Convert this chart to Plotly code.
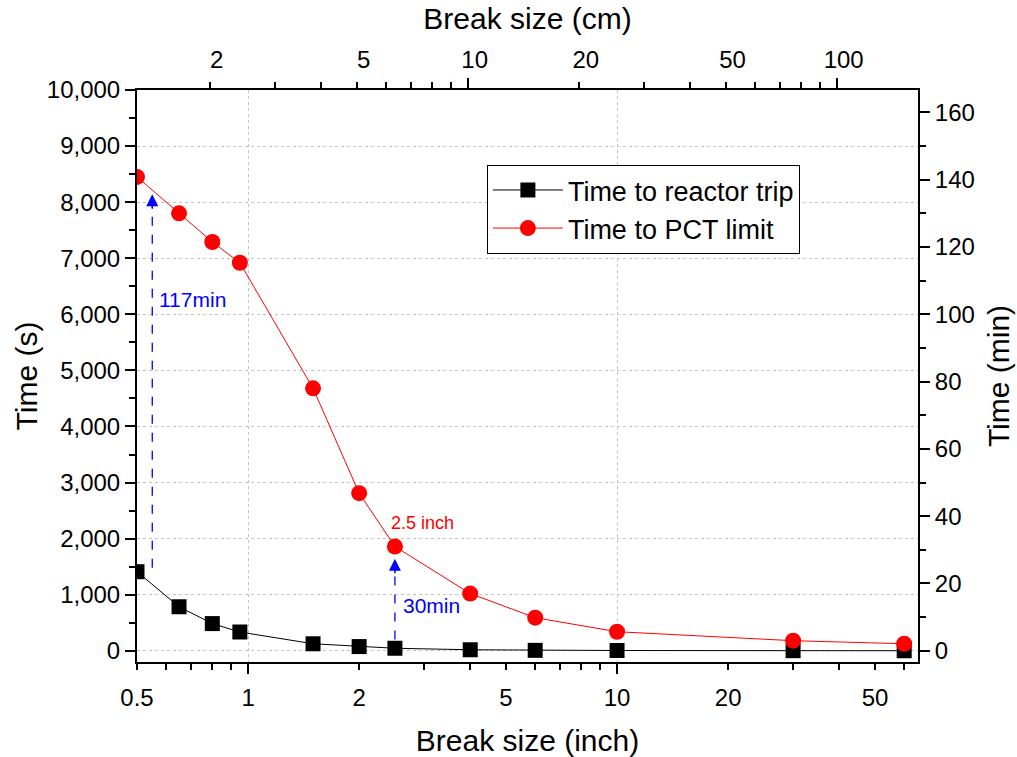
import math
import plotly.graph_objects as go

# ---- data ----
break_inch = [0.5, 0.65, 0.8, 0.95, 1.5, 2, 2.5, 4, 6, 10, 30, 60]
time_trip_s = [1410, 785, 485, 335, 125, 75, 45, 18, 8, 5, 2, 1]
time_pct_s = [8450, 7800, 7290, 6920, 4680, 2810, 1860, 1020, 590, 340, 180, 125]

bottom_tick_vals = [0.5, 1, 2, 5, 10, 20, 50]
bottom_tick_text = ["0.5", "1", "2", "5", "10", "20", "50"]
top_tick_vals = [2, 5, 10, 20, 50, 100]
top_tick_text = ["2", "5", "10", "20", "50", "100"]
right_tick_vals = [0, 20, 40, 60, 80, 100, 120, 140, 160]

INCH_TO_CM = 2.54
X_MIN, X_MAX = 0.5, 65.4
Y_MIN, Y_MAX = -200, 10000

FONT = "Liberation Sans, Arial, Helvetica, sans-serif"
TICK_FONT = dict(family=FONT, size=24, color="black")
TITLE_FONT = dict(family=FONT, size=30, color="black")
GRID = "#c4c4c4"

lx = [math.log10(X_MIN), math.log10(X_MAX)]
lx_cm = [math.log10(X_MIN * INCH_TO_CM), math.log10(X_MAX * INCH_TO_CM)]

fig = go.Figure()

fig.add_trace(go.Scatter(
    x=break_inch, y=time_trip_s, name="Time to reactor trip",
    mode="lines+markers", line=dict(color="black", width=1),
    marker=dict(symbol="square", size=15, color="black"),
    xaxis="x", yaxis="y"))
fig.add_trace(go.Scatter(
    x=break_inch, y=time_pct_s, name="Time to PCT limit",
    mode="lines+markers", line=dict(color="red", width=1),
    marker=dict(symbol="circle", size=16, color="red"),
    xaxis="x", yaxis="y"))

# helper traces so overlay axes render
for xa, ya in [("x2", "y"), ("x3", "y"), ("x4", "y"), ("x", "y2")]:
    fig.add_trace(go.Scatter(x=[None], y=[None], xaxis=xa, yaxis=ya,
                             showlegend=False, hoverinfo="skip"))

# annotations: dashed arrows (shapes take data values on log axes)
arrows = [
    (0.55, 1480, 8140, "117min", 0.565, 6260),
    (2.5, 200, 1640, "30min", 2.6, 800),
]
for xa, y0, y1, txt, tx, ty in arrows:
    fig.add_shape(type="line", xref="x", yref="y",
                  x0=xa, x1=xa, y0=y0, y1=y1 - 150,
                  line=dict(color="blue", width=1.3, dash="dash"))
    fig.add_annotation(x=math.log10(xa), y=y1, xref="x", yref="y",
                       ax=0, ay=16, showarrow=True, arrowhead=2,
                       arrowsize=1.6, arrowwidth=1.5, arrowcolor="blue", text="")
    fig.add_annotation(x=math.log10(tx), y=ty, xref="x", yref="y",
                       text=txt, showarrow=False, xanchor="left", yanchor="middle",
                       font=dict(family=FONT, size=21, color="blue"))

fig.add_annotation(x=math.log10(2.41), y=2280, xref="x", yref="y",
                   text="2.5 inch", showarrow=False, xanchor="left", yanchor="middle",
                   font=dict(family=FONT, size=18, color="red"))

fig.update_layout(
    width=1017, height=757,
    margin=dict(l=137, r=99, t=90, b=95),
    paper_bgcolor="white", plot_bgcolor="white",
    font=dict(family=FONT, color="black"),
    showlegend=True,
    legend=dict(x=0.448, y=0.869, xanchor="left", yanchor="top",
                bgcolor="white", bordercolor="black", borderwidth=1,
                font=dict(family=FONT, size=27, color="black"),
                itemwidth=70, tracegroupgap=0),
    xaxis=dict(type="log", range=lx, side="bottom", anchor="y", automargin=False,
               tickmode="array", tickvals=bottom_tick_vals, ticktext=bottom_tick_text,
               ticks="outside", ticklen=6, tickwidth=1.5, tickcolor="black",
               minor=dict(ticks="outside", ticklen=6, tickwidth=1.5, tickcolor="black",
                          dtick="D1", showgrid=False),
               ticklabelstandoff=7,
               showline=True, linewidth=2, linecolor="black", mirror=False,
               showgrid=False, zeroline=False, tickfont=TICK_FONT,
               title=dict(text="Break size (inch)", font=TITLE_FONT, standoff=24)),
    xaxis3=dict(type="log", range=lx, overlaying="x", side="bottom", anchor="y",
                automargin=False,
                tickmode="array", tickvals=[1, 10], ticks="outside", ticklen=11,
                tickwidth=1.5, tickcolor="black", showticklabels=False,
                showgrid=True, gridcolor=GRID, griddash="dot", gridwidth=1,
                showline=False, zeroline=False),
    xaxis2=dict(type="log", range=lx_cm, overlaying="x", side="top", anchor="y",
                automargin=False,
                tickmode="array", tickvals=top_tick_vals, ticktext=top_tick_text,
                ticks="outside", ticklen=6, tickwidth=1.5, tickcolor="black",
                minor=dict(ticks="outside", ticklen=6, tickwidth=1.5, tickcolor="black",
                           dtick="D1", showgrid=False),
                ticklabelshift=7, ticklabelstandoff=4,
                showline=True, linewidth=2, linecolor="black",
                showgrid=False, zeroline=False, tickfont=TICK_FONT,
                title=dict(text="Break size (cm)", font=TITLE_FONT, standoff=8)),
    xaxis4=dict(type="log", range=lx_cm, overlaying="x", side="top", anchor="y",
                automargin=False,
                tickmode="array", tickvals=[10, 100], ticks="outside", ticklen=11,
                tickwidth=1.5, tickcolor="black", showticklabels=False,
                showgrid=False, showline=False, zeroline=False),
    yaxis=dict(range=[Y_MIN, Y_MAX], side="left", anchor="x", automargin=False,
               tickmode="linear", tick0=0, dtick=1000, tickformat=",d",
               ticks="outside", ticklen=10, tickwidth=1.5, tickcolor="black",
               minor=dict(ticks="outside", ticklen=6, tickwidth=1.5, tickcolor="black",
                          dtick=500, tick0=0, showgrid=False),
               showline=True, linewidth=2, linecolor="black",
               showgrid=True, gridcolor=GRID, griddash="dot", gridwidth=1,
               zeroline=False, tickfont=TICK_FONT,
               title=dict(text="Time (s)", font=TITLE_FONT, standoff=0)),
    yaxis2=dict(range=[Y_MIN / 60, Y_MAX / 60], overlaying="y", side="right", anchor="x",
                automargin=False,
                tickmode="array", tickvals=right_tick_vals,
                ticks="outside", ticklen=10, tickwidth=1.5, tickcolor="black",
                minor=dict(ticks="outside", ticklen=6, tickwidth=1.5, tickcolor="black",
                           dtick=10, tick0=0, showgrid=False),
                showline=True, linewidth=2, linecolor="black",
                showgrid=False, zeroline=False, tickfont=TICK_FONT,
                title=dict(text="Time (min)", font=TITLE_FONT, standoff=14)),
)

fig.write_html(
    "out.html",
    config={"displayModeBar": False},
    post_script="document.body.style.margin='0';document.body.style.overflow='hidden';",
)
